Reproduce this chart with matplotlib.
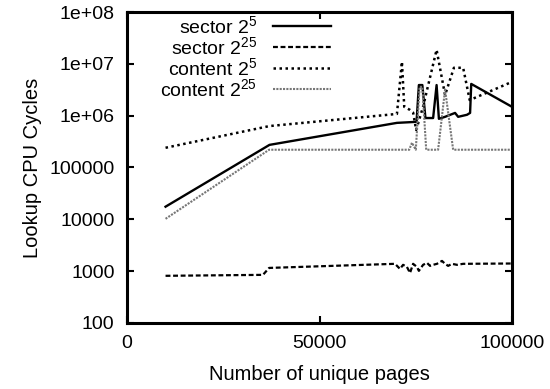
import numpy as np
import matplotlib
matplotlib.use('Agg')
import matplotlib.pyplot as plt

plt.rcParams['font.family'] = ['Liberation Sans', 'DejaVu Sans']
plt.rcParams['mathtext.fontset'] = 'custom'
plt.rcParams['mathtext.rm'] = 'Liberation Sans'
plt.rcParams['mathtext.it'] = 'Liberation Sans:italic'
plt.rcParams['font.size'] = 14

# data
sector5_x = [10000, 37000, 70100, 75200, 75800, 76700, 77500, 79500, 80400, 81000,
             82600, 85200, 86000, 88300, 89100, 89400, 100000]
sector5_y = [17500, 273000, 726000, 760000, 3.9e6, 3.9e6, 900000, 900000, 3.9e6, 870000,
             950000, 1.13e6, 950000, 1.04e6, 1.13e6, 4.1e6, 1.48e6]

sector25_x = [10000, 35300, 36900, 69600, 70900, 71700, 72700, 73500, 74300, 75300, 75800,
              76900, 77900, 78700, 79500, 80500, 81800, 82600, 83400, 84400, 85700, 87300, 100000]
sector25_y = [810, 845, 1150, 1380, 1100, 1320, 1200, 920, 1380, 1200, 1010,
              1320, 1440, 1260, 1320, 1380, 1570, 1380, 1260, 1380, 1320, 1380, 1400]

content5_x = [10000, 37000, 70100, 71400, 72000, 73500, 74300, 75100, 76900, 80400,
              82600, 84900, 87300, 89000, 100000]
content5_y = [2.4e5, 6.3e5, 1.08e6, 1.1e7, 1.48e6, 1.29e6, 1.15e6, 5.3e5, 1.5e6, 1.87e7,
              2.5e6, 8.4e6, 8.4e6, 2.0e6, 4.5e6]

content25_x = [10000, 36900, 73300, 74000, 75000, 76000, 76700, 77700, 80800, 82600, 84700, 100000]
content25_y = [1.02e4, 2.2e5, 2.2e5, 3.0e5, 2.2e5, 3.6e6, 3.6e6, 2.2e5, 2.2e5, 3.2e6, 2.2e5, 2.2e5]

fig = plt.figure(figsize=(5.5, 3.89), dpi=100)
ax = fig.add_axes([0.231, 0.170, 0.700, 0.799])

ax.plot(sector5_x, sector5_y, color='black', lw=1.7, ls='-', label='sector 2$^{5}$')
ax.plot(sector25_x, sector25_y, color='black', lw=1.6, ls=(0, (2.2, 1.2)), label='sector 2$^{25}$')
ax.plot(content5_x, content5_y, color='black', lw=1.8, ls=(0, (1, 1.4)), label='content 2$^{5}$')
ax.plot(content25_x, content25_y, color='#777777', lw=1.5, ls=(0, (1, 0.6)), label='content 2$^{25}$')

ax.set_yscale('log')
ax.set_xlim(0, 100000)
ax.set_ylim(100, 1e8)
ax.set_xticks([0, 50000, 100000])
ax.set_xticklabels(['0', '50000', '100000'])
yt = [100, 1000, 10000, 100000, 1e6, 1e7, 1e8]
ax.set_yticks(yt)
ax.set_yticklabels(['100', '1000', '10000', '100000', '1e+06', '1e+07', '1e+08'])
ax.minorticks_off()
ax.tick_params(direction='in', top=True, right=True, length=5, width=1.5, pad=9,
               labelsize=14)

for s in ax.spines.values():
    s.set_linewidth(2.2)

ax.set_xlabel('Number of unique pages', labelpad=9, fontsize=14.5)
ax.set_ylabel('Lookup CPU Cycles', labelpad=5, fontsize=14.5)

leg = ax.legend(loc='upper right', bbox_to_anchor=(0.555, 1.022), frameon=False,
                markerfirst=False, handlelength=3.0, handletextpad=0.8,
                labelspacing=-0.05, borderpad=0.0, fontsize=14)

fig.savefig('out.png', dpi=100)
